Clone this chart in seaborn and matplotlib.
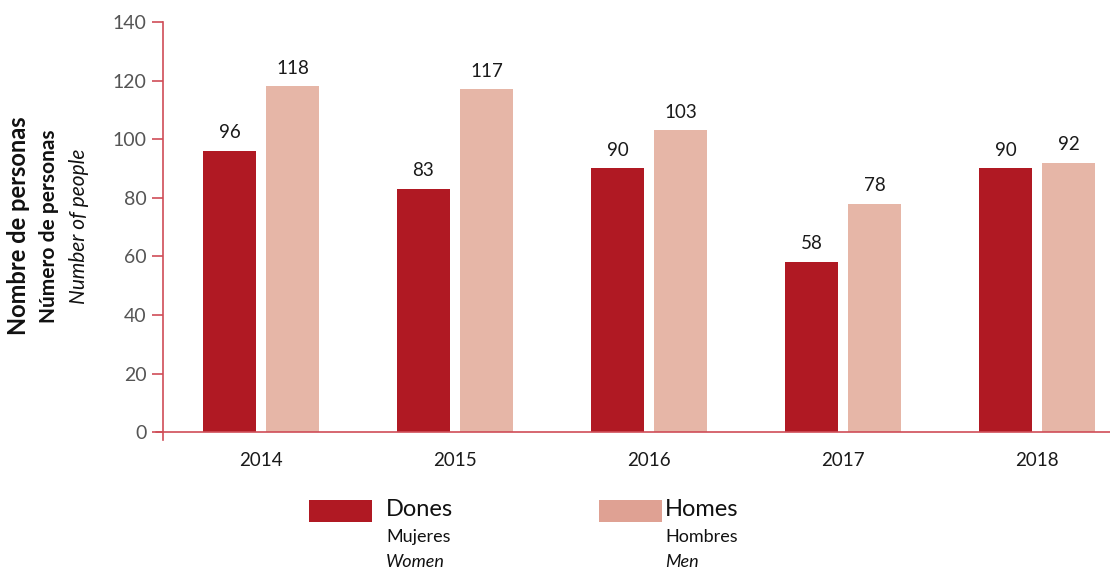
import matplotlib
matplotlib.use("Agg")
import matplotlib.pyplot as plt
import seaborn as sns
import pandas as pd
from matplotlib.patches import Rectangle

years = ["2014", "2015", "2016", "2017", "2018"]
dones = [96, 83, 90, 58, 90]
homes = [118, 117, 103, 78, 92]
series = ["Dones", "Homes"]
yticks = [0, 20, 40, 60, 80, 100, 120, 140]

df = pd.DataFrame({
    "year": years * 2,
    "sex": [series[0]] * len(years) + [series[1]] * len(years),
    "value": dones + homes,
})

sns.set_theme(style="white")
plt.rcParams['font.family'] = ['Lato', 'DejaVu Sans']

RED = "#cf4d57"
C_DONES = "#b01923"
C_HOMES = "#e6b6a7"
C_HOMES_LEG = "#dfa193"

W, H = 1110, 569
fig = plt.figure(figsize=(W / 100, H / 100), dpi=100)
ax = fig.add_axes([163 / W, 1 - 440 / H, 1 - 163 / W, (440 - 22) / H])

sns.barplot(data=df, x="year", y="value", hue="sex", hue_order=series,
            palette={"Dones": C_DONES, "Homes": C_HOMES},
            width=0.65, gap=0.16, linewidth=0, saturation=1,
            legend=False, ax=ax)

ax.set_xlim(-0.505, 4.376)
ax.set_ylim(-2.7, 140)
ax.set_yticks(yticks)
ax.set_xlabel("")
ax.set_ylabel("")

for s in ["top", "right", "bottom"]:
    ax.spines[s].set_visible(False)
ax.spines["left"].set_color(RED)
ax.spines["left"].set_linewidth(1.2)
ax.axhline(0, xmin=-7 / 947, xmax=1, color=RED, lw=1.2, clip_on=False, zorder=5)

ax.tick_params(axis="y", left=True, direction="out", length=8, width=1.2, color=RED,
               pad=4, labelsize=14, labelcolor="#555555")
ax.tick_params(axis="x", bottom=False, length=0, pad=9, labelsize=13.5, labelcolor="#1a1a1a")
ax.grid(False)

for c in ax.containers:
    ax.bar_label(c, padding=7, fontsize=13.5, color="#1a1a1a")

# y-axis title (three languages)
fig.text(19 / W, 1 - 226 / H, "Nombre de personas", rotation=90, ha="center",
         va="center", fontsize=17, fontweight="bold", color="#111111")
fig.text(49 / W, 1 - 226 / H, "Número de personas", rotation=90, ha="center",
         va="center", fontsize=15, fontweight="bold", color="#111111")
fig.text(79 / W, 1 - 226 / H, "Number of people", rotation=90, ha="center",
         va="center", fontsize=15, fontstyle="italic", color="#111111")

# legend
legend_items = [
    (309, C_DONES, "Dones", "Mujeres", "Women", 386),
    (599, C_HOMES_LEG, "Homes", "Hombres", "Men", 665),
]
for px, col, l1, l2, l3, tx in legend_items:
    fig.add_artist(Rectangle((px / W, 1 - 522 / H), 63 / W, 22 / H,
                             transform=fig.transFigure, color=col, lw=0))
    fig.text(tx / W, 1 - 509 / H, l1, ha="left", va="center", fontsize=17, color="#111111")
    fig.text(tx / W, 1 - 537 / H, l2, ha="left", va="center", fontsize=13, color="#111111")
    fig.text(tx / W, 1 - 562 / H, l3, ha="left", va="center", fontsize=13,
             fontstyle="italic", color="#111111")

fig.savefig("out.png", dpi=100)
